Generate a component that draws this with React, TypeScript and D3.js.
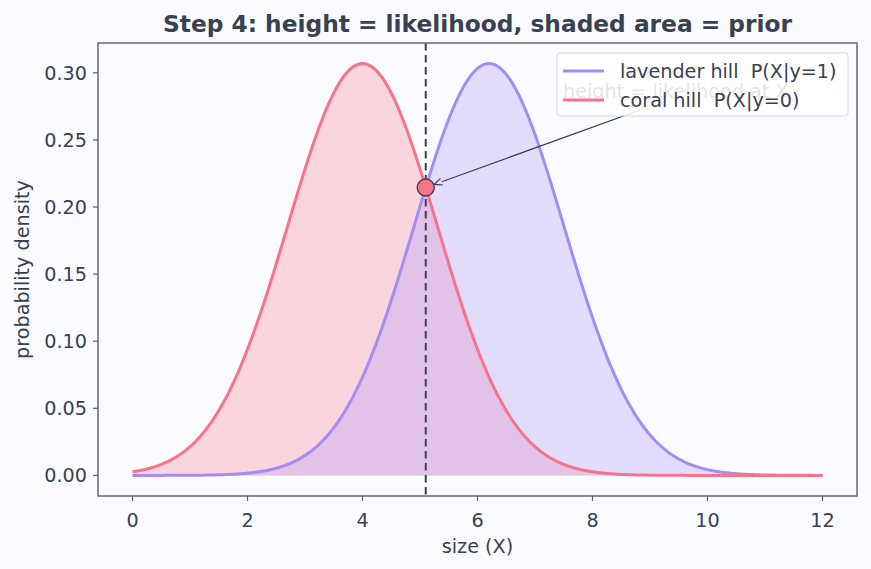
import React from "react";
import * as d3 from "d3";

// Class-conditional normal densities (mean, standard deviation)
const classLabels = ["lavender hill  P(X|y=1)", "coral hill  P(X|y=0)"];
const classMeans = [6.2, 4.0];
const classSds = [1.3, 1.3];
const lineColors = ["#a48cf5", "#f7738a"];
const fillColors = ["#a78bfa", "#f87189"];

const xDomain = [0, 12];
const xTicks = [0, 2, 4, 6, 8, 10, 12];
const yTicks = [0.0, 0.05, 0.1, 0.15, 0.2, 0.25, 0.3];
const boundaryX = [5.1];

const W = 871;
const H = 569;
const margin = { left: 98, right: 14, top: 43, bottom: 73 };
const ink = "#374151";
const spine = "#5b5f6b";

function normalPdf(x: number, mu: number, sd: number) {
  return Math.exp(-0.5 * ((x - mu) / sd) ** 2) / (sd * Math.sqrt(2 * Math.PI));
}

export default function App() {
  const xs = d3.range(0, 400).map((i) => xDomain[0] + (i * (xDomain[1] - xDomain[0])) / 399);
  const series = classMeans.map((m, k) => xs.map((x) => ({ x, y: normalPdf(x, m, classSds[k]) })));
  const yMax = d3.max(series.flat(), (d) => d.y) as number;

  const xPad = (xDomain[1] - xDomain[0]) * 0.05;
  const x = d3
    .scaleLinear()
    .domain([xDomain[0] - xPad, xDomain[1] + xPad])
    .range([margin.left, W - margin.right]);
  const y = d3
    .scaleLinear()
    .domain([-yMax * 0.05, yMax * 1.05])
    .range([H - margin.bottom, margin.top]);

  const line = d3
    .line<{ x: number; y: number }>()
    .x((d) => x(d.x))
    .y((d) => y(d.y));
  const area = d3
    .area<{ x: number; y: number }>()
    .x((d) => x(d.x))
    .y0(y(0))
    .y1((d) => y(d.y));

  const bx = boundaryX[0];
  const by = normalPdf(bx, classMeans[1], classSds[1]);
  const px = x(bx);
  const py = y(by);

  const [x0, x1] = x.range();
  const [yb, yt] = y.range();

  // annotation arrow from label to the crossing point
  const tx = 640;
  const ty = 110;
  const ang = Math.atan2(py - ty, px - tx);
  const tipX = px - Math.cos(ang) * 9;
  const tipY = py - Math.sin(ang) * 9;
  const headLen = 8;
  const headW = 3.5;
  const hbX = tipX - Math.cos(ang) * headLen;
  const hbY = tipY - Math.sin(ang) * headLen;

  const font = "'DejaVu Sans', sans-serif";
  const fs = 19.2;

  return (
    <svg
      width={W}
      height={H}
      style={{ position: "absolute", left: 0, top: 0, background: "#fafbfe" }}
      fontFamily={font}
    >
      <rect x={0} y={0} width={W} height={H} fill="#fafbfe" />
      <defs>
        <clipPath id="plotClip">
          <rect x={x0} y={yt} width={x1 - x0} height={yb - yt} />
        </clipPath>
      </defs>

      <g clipPath="url(#plotClip)">
        {/* coral first, lavender over it */}
        {[1, 0].map((k) => (
          <path key={"a" + k} d={area(series[k]) ?? ""} fill={fillColors[k]} fillOpacity={0.27} />
        ))}
        {[0, 1].map((k) => (
          <path
            key={"l" + k}
            d={line(series[k]) ?? ""}
            fill="none"
            stroke={lineColors[k]}
            strokeWidth={3}
          />
        ))}
        <line
          x1={px}
          x2={px}
          y1={yt}
          y2={yb}
          stroke={ink}
          strokeWidth={2}
          strokeDasharray="7.5,4.5"
        />
        <text x={563} y={98} fontSize={fs} fill={ink}>
          height = likelihood at X
        </text>
        <line x1={tx} y1={ty} x2={hbX} y2={hbY} stroke={ink} strokeWidth={1.2} />
        <polyline
          points={`${hbX + Math.sin(ang) * headW},${hbY - Math.cos(ang) * headW} ${tipX},${tipY} ${hbX - Math.sin(ang) * headW},${hbY + Math.cos(ang) * headW}`}
          fill="none"
          stroke={ink}
          strokeWidth={1.2}
        />
        <circle cx={px} cy={py} r={8.5} fill="#f7738a" stroke={ink} strokeWidth={1.4} />
      </g>

      {/* spines */}
      <rect x={x0} y={yt} width={x1 - x0} height={yb - yt} fill="none" stroke={spine} strokeWidth={1.4} />

      {/* x axis */}
      {xTicks.map((t) => (
        <g key={"xt" + t}>
          <line x1={x(t)} x2={x(t)} y1={yb} y2={yb + 5} stroke={spine} strokeWidth={1.2} />
          <text x={x(t)} y={yb + 31} fontSize={fs} fill={ink} textAnchor="middle">
            {t}
          </text>
        </g>
      ))}
      <text x={(x0 + x1) / 2} y={553} fontSize={fs} fill={ink} textAnchor="middle">
        size (X)
      </text>

      {/* y axis */}
      {yTicks.map((t) => (
        <g key={"yt" + t}>
          <line x1={x0 - 5} x2={x0} y1={y(t)} y2={y(t)} stroke={spine} strokeWidth={1.2} />
          <text x={x0 - 11} y={y(t) + 6.8} fontSize={fs} fill={ink} textAnchor="end">
            {t.toFixed(2)}
          </text>
        </g>
      ))}
      <text
        transform={`translate(29,${(yt + yb) / 2}) rotate(-90)`}
        fontSize={fs}
        fill={ink}
        textAnchor="middle"
      >
        probability density
      </text>

      {/* title */}
      <text
        x={(x0 + x1) / 2}
        y={32}
        fontSize={23.3}
        fontWeight="bold"
        fill={ink}
        textAnchor="middle"
      >
        Step 4: height = likelihood, shaded area = prior
      </text>

      {/* legend */}
      <g>
        <rect
          x={557}
          y={53}
          width={291}
          height={63}
          rx={3}
          fill="#ffffff"
          fillOpacity={0.86}
          stroke="#d4d6dc"
          strokeWidth={1}
        />
        {classLabels.map((lab, k) => (
          <g key={"lg" + k}>
            <line
              x1={563}
              x2={604}
              y1={71 + k * 29}
              y2={71 + k * 29}
              stroke={lineColors[k]}
              strokeWidth={3}
            />
            <text x={620} y={77.5 + k * 29} fontSize={fs} fill={ink} style={{ whiteSpace: "pre" }}>
              {lab}
            </text>
          </g>
        ))}
      </g>
    </svg>
  );
}
